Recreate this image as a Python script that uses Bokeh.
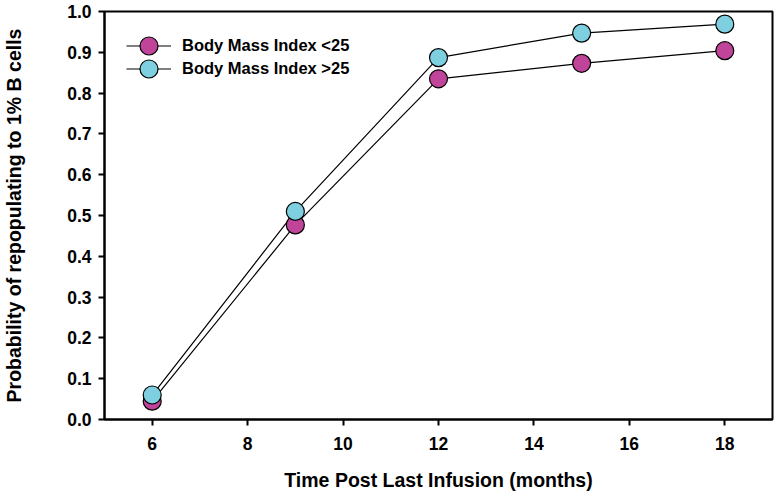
from bokeh.plotting import figure
from bokeh.models import Legend, LegendItem, FixedTicker, Range1d, PrintfTickFormatter
from bokeh.embed import file_html
from bokeh.resources import INLINE

# Data
months = [6, 9, 12, 15, 18]
bmi_under_25 = [0.045, 0.477, 0.835, 0.873, 0.904]
bmi_over_25 = [0.060, 0.510, 0.887, 0.947, 0.969]
series_labels = ["Body Mass Index <25", "Body Mass Index >25"]
x_ticks = [6, 8, 10, 12, 14, 16, 18]
y_ticks = [0.0, 0.1, 0.2, 0.3, 0.4, 0.5, 0.6, 0.7, 0.8, 0.9, 1.0]

MAGENTA = "#C1449B"
CYAN = "#7ECFE0"
FONT = "Liberation Sans"

p = figure(width=775, height=497, output_backend="svg", toolbar_location=None,
           x_range=Range1d(5, 19), y_range=Range1d(0, 1.0),
           min_border_left=100, min_border_right=3, min_border_top=11, min_border_bottom=78)
p.grid.visible = False
p.outline_line_color = "black"
p.outline_line_width = 2
p.background_fill_color = "white"
p.border_fill_color = "white"

l1 = p.line(months, bmi_under_25, line_color="black", line_width=1.2)
l2 = p.line(months, bmi_over_25, line_color="black", line_width=1.2)
s1 = p.scatter(months, bmi_under_25, size=18, fill_color=MAGENTA, line_color="black", line_width=1.2)
s2 = p.scatter(months, bmi_over_25, size=18, fill_color=CYAN, line_color="black", line_width=1.2)

for ax in (p.xaxis[0], p.yaxis[0]):
    ax.axis_line_width = 2
    ax.major_tick_line_width = 2
    ax.major_tick_out = 6
    ax.major_tick_in = 0
    ax.minor_tick_line_color = None
    ax.major_label_text_font = FONT
    ax.major_label_text_font_style = "bold"
    ax.major_label_text_font_size = "17.5px"
    ax.major_label_text_color = "black"
    ax.axis_label_text_font = FONT
    ax.axis_label_text_font_style = "bold"
    ax.axis_label_text_font_size = "19.5px"
    ax.axis_label_text_color = "black"

p.xaxis.ticker = FixedTicker(ticks=x_ticks)
p.yaxis.ticker = FixedTicker(ticks=y_ticks)
p.yaxis.formatter = PrintfTickFormatter(format="%.1f")
p.xaxis.axis_label = "Time Post Last Infusion (months)"
p.yaxis.axis_label = "Probability of repopulating to 1% B cells"
p.xaxis.major_label_standoff = 11
p.xaxis.axis_label_standoff = 16
p.yaxis.major_label_standoff = 7
p.yaxis.axis_label_standoff = 39

for renderers, label, loc in (([l1, s1], series_labels[0], (22, 351)),
                              ([l2, s2], series_labels[1], (22, 328))):
    lg = Legend(items=[LegendItem(label=label, renderers=renderers)], location=loc,
                glyph_width=45, glyph_height=45, label_height=45, label_standoff=11,
                padding=0, margin=0, spacing=0,
                label_text_font=FONT, label_text_font_style="bold", label_text_font_size="16.5px",
                label_text_color="black",
                background_fill_alpha=0, border_line_color=None)
    p.add_layout(lg, "center")

open("out.html", "w").write(file_html(p, INLINE))
